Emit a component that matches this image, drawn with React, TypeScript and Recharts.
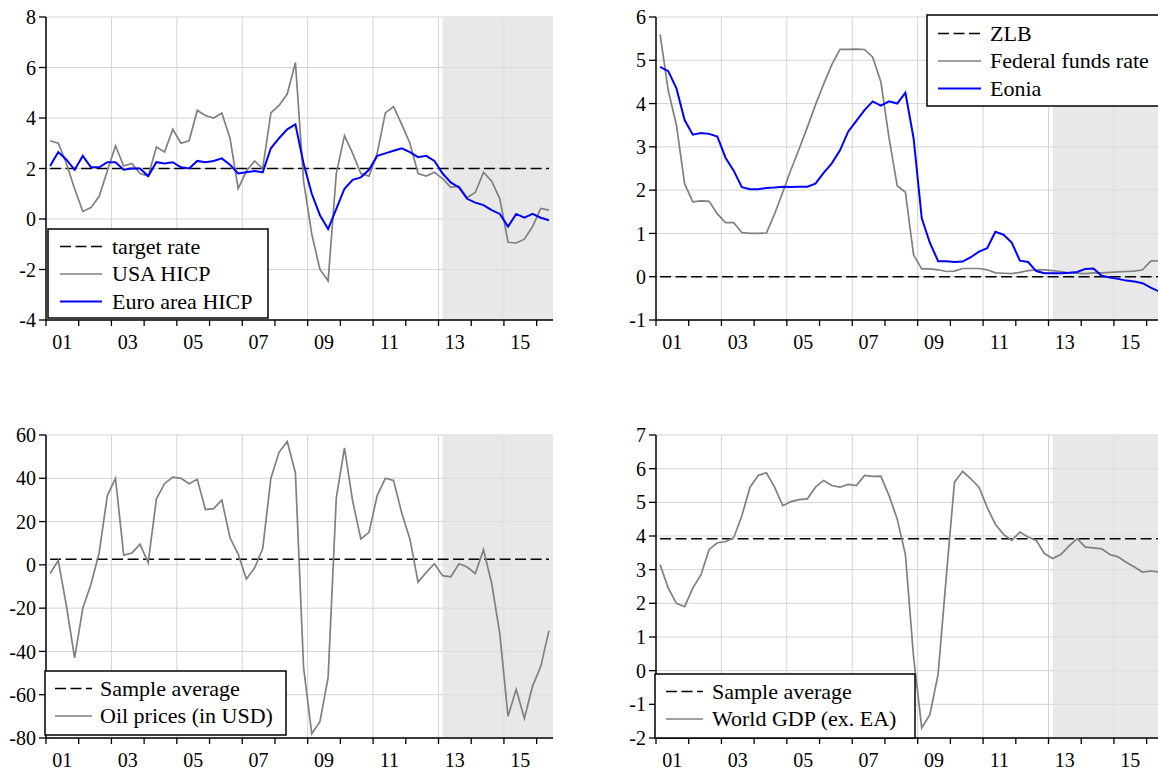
import React from 'react';
import { LineChart, Line, XAxis, YAxis, CartesianGrid, ReferenceArea } from 'recharts';

const FONT = '"Liberation Serif","Times New Roman",Times,serif';

// ---------- categories ----------
const QUARTERS: string[] = Array.from({ length: 62 }, (_, i) => `${2001 + Math.floor(i / 4)}Q${(i % 4) + 1}`);
const YEAR_TICKS = [2001, 2002, 2003, 2004, 2005, 2006, 2007, 2008, 2009, 2010, 2011, 2012, 2013, 2014, 2015, 2016];
const LABEL_YEARS = [2001, 2003, 2005, 2007, 2009, 2011, 2013, 2015];
const GRID_YEARS = [2003, 2005, 2007, 2009, 2011, 2013, 2015];
const X_DOMAIN: [number, number] = [2001, 2016.5];
const SHADE_START = '2013Q1';

// ---------- series ----------
const USA_HICP = [3.1, 3.0, 2.2, 1.2, 0.3, 0.45, 0.9, 1.9, 2.9, 2.1, 2.2, 1.8, 1.7, 2.85, 2.65, 3.55, 3.0, 3.1, 4.3, 4.1, 4.0, 4.2, 3.2, 1.2, 1.9, 2.3, 2.0, 4.2, 4.5, 4.95, 6.2, 1.5, -0.6, -2.0, -2.45, 1.8, 3.3, 2.6, 1.8, 1.7, 2.6, 4.2, 4.45, 3.75, 3.0, 1.8, 1.7, 1.85, 1.6, 1.25, 1.3, 0.85, 1.05, 1.85, 1.5, 0.8, -0.92, -0.95, -0.8, -0.3, 0.42, 0.35];
const EA_HICP = [2.1, 2.65, 2.35, 1.95, 2.5, 2.05, 2.05, 2.25, 2.25, 1.95, 2.0, 2.0, 1.7, 2.25, 2.2, 2.25, 2.05, 2.0, 2.3, 2.25, 2.3, 2.4, 2.15, 1.8, 1.85, 1.9, 1.85, 2.8, 3.2, 3.55, 3.75, 2.2, 1.0, 0.15, -0.4, 0.4, 1.2, 1.55, 1.65, 1.95, 2.5, 2.6, 2.7, 2.8, 2.65, 2.45, 2.5, 2.3, 1.8, 1.45, 1.25, 0.8, 0.65, 0.55, 0.35, 0.2, -0.3, 0.2, 0.05, 0.2, 0.05, -0.05];
const TARGET_RATE = 2.0;

const FED_FUNDS = [5.6, 4.3, 3.5, 2.15, 1.73, 1.75, 1.74, 1.45, 1.25, 1.25, 1.02, 1.0, 1.0, 1.01, 1.45, 1.95, 2.47, 2.95, 3.45, 3.97, 4.45, 4.9, 5.25, 5.25, 5.26, 5.25, 5.07, 4.5, 3.2, 2.1, 1.95, 0.5, 0.18, 0.18, 0.16, 0.12, 0.13, 0.19, 0.19, 0.19, 0.16, 0.09, 0.08, 0.07, 0.1, 0.14, 0.16, 0.16, 0.14, 0.12, 0.09, 0.08, 0.07, 0.09, 0.09, 0.1, 0.11, 0.12, 0.13, 0.16, 0.36, 0.37];
const EONIA = [4.85, 4.75, 4.35, 3.62, 3.28, 3.32, 3.3, 3.24, 2.75, 2.45, 2.07, 2.02, 2.02, 2.05, 2.06, 2.08, 2.07, 2.08, 2.08, 2.15, 2.4, 2.62, 2.92, 3.35, 3.6, 3.85, 4.05, 3.95, 4.05, 4.0, 4.25, 3.2, 1.35, 0.78, 0.36, 0.36, 0.34, 0.35, 0.45, 0.58, 0.66, 1.04, 0.97, 0.79, 0.37, 0.34, 0.13, 0.08, 0.08, 0.08, 0.09, 0.11, 0.18, 0.19, 0.02, -0.02, -0.05, -0.09, -0.11, -0.15, -0.25, -0.34];
const ZLB = 0;

const OIL_USD = [-4, 2, -19, -43, -20, -9, 5.5, 32, 40, 4.5, 5.5, 9.5, 1, 30.5, 37.5, 40.5, 40, 37.5, 39.5, 25.5, 26, 30, 12.5, 5, -6.5, -1.5, 7.5, 40, 52, 57, 42.5, -47.5, -78, -72.5, -52, 31, 54, 29.5, 12, 15, 32, 40, 39, 24, 12, -8, -3.5, 0.5, -5, -5.5, 0.5, -1, -4, 7, -8.5, -32, -70, -57.5, -71, -56, -47, -30.5];
const OIL_AVG = 2.6;

const WORLD_GDP = [3.15, 2.45, 2.0, 1.9, 2.45, 2.85, 3.6, 3.8, 3.83, 3.95, 4.6, 5.45, 5.8, 5.88, 5.45, 4.9, 5.02, 5.08, 5.1, 5.45, 5.65, 5.5, 5.45, 5.53, 5.5, 5.8, 5.77, 5.78, 5.2, 4.5, 3.45, 0.4, -1.7, -1.3, -0.1, 2.8, 5.6, 5.92, 5.7, 5.45, 4.85, 4.35, 4.05, 3.87, 4.12, 3.97, 3.87, 3.48, 3.33, 3.45, 3.7, 3.92, 3.67, 3.65, 3.62, 3.45, 3.38, 3.22, 3.08, 2.93, 2.96, 2.93];
const GDP_AVG = 3.92;

// ---------- tick values ----------
const Y1_TICKS = [-4, -2, 0, 2, 4, 6, 8];
const Y2_TICKS = [-1, 0, 1, 2, 3, 4, 5, 6];
const Y3_TICKS = [-80, -60, -40, -20, 0, 20, 40, 60];
const Y4_TICKS = [-2, -1, 0, 1, 2, 3, 4, 5, 6, 7];

const toT = (q: string) => Number(q.slice(0, 4)) + (Number(q.slice(5)) - 0.5) / 4;

const build = (cols: Record<string, number[] | number>) =>
  QUARTERS.map((q, i) => {
    const row: Record<string, number | string> = { q, t: toT(q) };
    Object.entries(cols).forEach(([k, v]) => {
      row[k] = Array.isArray(v) ? v[i] : v;
    });
    return row;
  });

const DATA1 = build({ target: TARGET_RATE, usa: USA_HICP, ea: EA_HICP });
const DATA2 = build({ zlb: ZLB, fed: FED_FUNDS, eonia: EONIA });
const DATA3 = build({ avg: OIL_AVG, oil: OIL_USD });
const DATA4 = build({ avg: GDP_AVG, gdp: WORLD_GDP });

const GRAY = '#808080';
const BLUE = '#0000ff';
const DASH = '11 4.5';

// ---------- geometry ----------
const CHART_W = 600;
const CHART_H = 360;
const Y_AXIS_W = 46;
const X_AXIS_H = 40;
const MARGIN_RIGHT = 47;
const PLOT_W = CHART_W - Y_AXIS_W - MARGIN_RIGHT;
const HALF_YEAR_PX = PLOT_W / (X_DOMAIN[1] - X_DOMAIN[0]) / 2;

const XTick = (props: any) => {
  const { x, y, payload } = props;
  const yr = payload.value;
  if (!LABEL_YEARS.includes(yr)) return <g />;
  return (
    <text x={x + HALF_YEAR_PX} y={y} dy={21} textAnchor="middle" fontFamily={FONT} fontSize={20} fill="#000">
      {String(yr % 100).padStart(2, '0')}
    </text>
  );
};

type SeriesDef = { key: string; color: string; dashed?: boolean; width: number };

function Panel(props: {
  left: number;
  top: number;
  marginTop: number;
  data: any[];
  series: SeriesDef[];
  yDomain: [number, number];
  yTicks: number[];
}) {
  const { left, top, marginTop, data, series, yDomain, yTicks } = props;
  return (
    <div style={{ position: 'absolute', left, top, width: CHART_W, height: CHART_H }}>
      <LineChart
        width={CHART_W}
        height={CHART_H}
        data={data}
        margin={{ top: marginTop, right: MARGIN_RIGHT, bottom: 0, left: 0 }}
      >
        <CartesianGrid
          horizontal
          vertical
          stroke="#d4d4d4"
          strokeWidth={1}
          verticalCoordinatesGenerator={({ offset }: any) =>
            GRID_YEARS.map((yr) => offset.left + ((yr - X_DOMAIN[0]) / (X_DOMAIN[1] - X_DOMAIN[0])) * offset.width)
          }
        />
        <ReferenceArea
          x1={toT(SHADE_START)}
          x2={X_DOMAIN[1]}
          fill="#e0e0e0"
          fillOpacity={0.75}
          stroke="none"
          ifOverflow="hidden"
        />
        <XAxis
          dataKey="t"
          type="number"
          domain={X_DOMAIN}
          ticks={YEAR_TICKS}
          interval={0}
          allowDataOverflow
          height={X_AXIS_H}
          tickSize={6}
          tickMargin={2}
          tick={<XTick />}
          axisLine={{ stroke: '#000', strokeWidth: 1.5 }}
          tickLine={{ stroke: '#000', strokeWidth: 1.3 }}
        />
        <XAxis
          xAxisId="top"
          orientation="top"
          dataKey="t"
          type="number"
          domain={X_DOMAIN}
          allowDataOverflow
          height={0}
          tick={false}
          tickLine={false}
          axisLine={{ stroke: '#000', strokeWidth: 1.5 }}
        />
        <YAxis
          type="number"
          domain={yDomain}
          ticks={yTicks}
          interval={0}
          allowDataOverflow
          width={Y_AXIS_W}
          tickSize={7}
          tickMargin={3}
          tick={{ fontFamily: FONT, fontSize: 20, fill: '#000' }}
          axisLine={{ stroke: '#000', strokeWidth: 1.5 }}
          tickLine={{ stroke: '#000', strokeWidth: 1.3 }}
        />
        <YAxis
          yAxisId="right"
          orientation="right"
          type="number"
          domain={yDomain}
          width={0}
          tick={false}
          tickLine={false}
          axisLine={{ stroke: '#000', strokeWidth: 1.5 }}
        />
        {series.map((s) => (
          <Line
            key={s.key}
            dataKey={s.key}
            type="linear"
            stroke={s.color}
            strokeWidth={s.width}
            strokeDasharray={s.dashed ? DASH : undefined}
            dot={false}
            activeDot={false}
            isAnimationActive={false}
          />
        ))}
      </LineChart>
    </div>
  );
}

type LegendItem = { label: string; color: string; dashed?: boolean; width: number };

function LegendBox(props: {
  left: number;
  top: number;
  width: number;
  height: number;
  lineX1: number;
  lineX2: number;
  textX: number;
  rowY0: number;
  rowStep: number;
  items: LegendItem[];
}) {
  const { left, top, width, height, lineX1, lineX2, textX, rowY0, rowStep, items } = props;
  return (
    <svg style={{ position: 'absolute', left, top }} width={width + 2} height={height + 2}>
      <rect x={1} y={1} width={width - 1} height={height - 1} fill="#fff" stroke="#000" strokeWidth={1.5} />
      {items.map((it, i) => {
        const y = rowY0 + i * rowStep;
        return (
          <g key={it.label}>
            <line
              x1={lineX1}
              x2={lineX2}
              y1={y}
              y2={y}
              stroke={it.color}
              strokeWidth={it.width}
              strokeDasharray={it.dashed ? DASH : undefined}
            />
            <text x={textX} y={y} dy="0.34em" fontFamily={FONT} fontSize={22} fill="#000">
              {it.label}
            </text>
          </g>
        );
      })}
    </svg>
  );
}

export default function App() {
  return (
    <div
      style={{
        position: 'absolute',
        left: 0,
        top: 0,
        width: 1158,
        height: 772,
        overflow: 'hidden',
        background: '#fff',
      }}
    >
      <Panel
        left={0}
        top={0}
        marginTop={17}
        data={DATA1}
        yDomain={[-4, 8]}
        yTicks={Y1_TICKS}
        series={[
          { key: 'target', color: '#000', dashed: true, width: 1.5 },
          { key: 'usa', color: GRAY, width: 1.7 },
          { key: 'ea', color: BLUE, width: 2 },
        ]}
      />
      <Panel
        left={610}
        top={0}
        marginTop={17}
        data={DATA2}
        yDomain={[-1, 6]}
        yTicks={Y2_TICKS}
        series={[
          { key: 'zlb', color: '#000', dashed: true, width: 1.5 },
          { key: 'fed', color: GRAY, width: 1.7 },
          { key: 'eonia', color: BLUE, width: 2 },
        ]}
      />
      <Panel
        left={0}
        top={418}
        marginTop={17}
        data={DATA3}
        yDomain={[-80, 60]}
        yTicks={Y3_TICKS}
        series={[
          { key: 'avg', color: '#000', dashed: true, width: 1.5 },
          { key: 'oil', color: GRAY, width: 1.7 },
        ]}
      />
      <Panel
        left={610}
        top={418}
        marginTop={17}
        data={DATA4}
        yDomain={[-2, 7]}
        yTicks={Y4_TICKS}
        series={[
          { key: 'avg', color: '#000', dashed: true, width: 1.5 },
          { key: 'gdp', color: GRAY, width: 1.7 },
        ]}
      />

      <LegendBox
        left={47}
        top={228}
        width={221}
        height={90}
        lineX1={13}
        lineX2={55}
        textX={65}
        rowY0={18.5}
        rowStep={27.5}
        items={[
          { label: 'target rate', color: '#000', dashed: true, width: 1.5 },
          { label: 'USA HICP', color: GRAY, width: 1.7 },
          { label: 'Euro area HICP', color: BLUE, width: 2 },
        ]}
      />
      <LegendBox
        left={926}
        top={14}
        width={260}
        height={92}
        lineX1={12}
        lineX2={55}
        textX={64}
        rowY0={19.5}
        rowStep={27.5}
        items={[
          { label: 'ZLB', color: '#000', dashed: true, width: 1.5 },
          { label: 'Federal funds rate', color: GRAY, width: 1.7 },
          { label: 'Eonia', color: BLUE, width: 2 },
        ]}
      />
      <LegendBox
        left={44}
        top={670}
        width={242}
        height={65}
        lineX1={11}
        lineX2={48}
        textX={56}
        rowY0={18.5}
        rowStep={27.5}
        items={[
          { label: 'Sample average', color: '#000', dashed: true, width: 1.5 },
          { label: 'Oil prices (in USD)', color: GRAY, width: 1.7 },
        ]}
      />
      <LegendBox
        left={654}
        top={673}
        width={261}
        height={65}
        lineX1={12}
        lineX2={49}
        textX={58}
        rowY0={18.5}
        rowStep={27.5}
        items={[
          { label: 'Sample average', color: '#000', dashed: true, width: 1.5 },
          { label: 'World GDP (ex. EA)', color: GRAY, width: 1.7 },
        ]}
      />
    </div>
  );
}
